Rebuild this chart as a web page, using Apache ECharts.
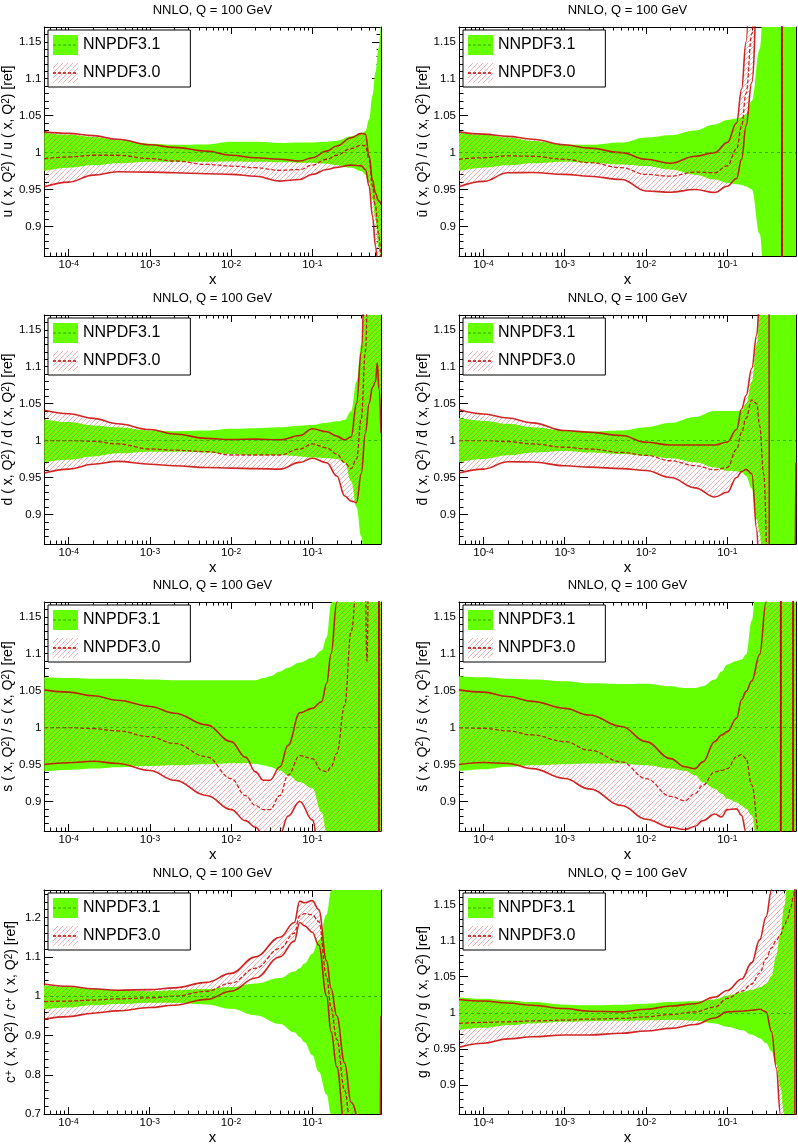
<!DOCTYPE html>
<html><head><meta charset="utf-8">
<script src="https://cdn.jsdelivr.net/npm/echarts@6/dist/echarts.min.js"></script>
<style>html,body{margin:0;padding:0;background:#fff}#c{width:798px;height:1146px}</style>
</head><body><div id="c"></div>
<script>
// ---------------- data ----------------
const X_MIN = 5e-5, X_MAX = 0.7;
const xTickValues = [1e-4, 1e-3, 1e-2, 1e-1];
const yTicksStd = [0.9, 0.95, 1, 1.05, 1.1, 1.15];
const yTicksC = [0.7, 0.8, 0.9, 1.0, 1.1, 1.2];
const titleText = 'NNLO, Q = 100 GeV';
const legendNames = ['NNPDF3.1', 'NNPDF3.0'];

// u
const u_x    = [5e-5,1e-4,2e-4,4e-4,1e-3,2e-3,5e-3,0.01,0.02,0.04,0.07,0.1,0.15,0.2,0.3,0.4,0.45,0.5,0.55,0.6,0.65,0.7];
const u_g_hi = [1.027,1.024,1.021,1.017,1.012,1.0105,1.011,1.0145,1.0145,1.013,1.0136,1.0136,1.0145,1.016,1.022,1.026,1.029,1.045,1.077,1.109,1.141,1.18];
const u_g_lo = [0.975,0.9795,0.9827,0.9855,0.9877,0.9877,0.9877,0.988,0.9877,0.987,0.9864,0.9864,0.985,0.983,0.9795,0.975,0.970,0.959,0.936,0.909,0.873,0.845];
const u_r_hi = [1.028,1.026,1.023,1.018,1.0105,1.007,1.002,0.9964,0.993,0.991,0.9886,0.993,1.002,1.009,1.020,1.026,1.025,0.9955,0.963,0.945,0.935,0.93];
const u_r_c  = [0.9918,0.994,0.9964,0.9964,0.9918,0.9886,0.984,0.9818,0.9795,0.976,0.977,0.983,0.991,0.9964,1.0055,1.010,1.009,0.991,0.9545,0.927,0.891,0.855];
const u_r_lo = [0.9536,0.96,0.9695,0.974,0.9736,0.9727,0.9714,0.9705,0.968,0.9614,0.9636,0.9705,0.977,0.980,0.983,0.982,0.977,0.9545,0.9136,0.873,0.836,0.80];

// ubar
const ub_x    = [5e-5,1e-4,2e-4,4e-4,1e-3,2e-3,5e-3,0.01,0.02,0.04,0.07,0.1,0.13,0.15,0.17,0.2,0.25,0.3,0.465,0.475,0.7];
const ub_g_hi = [1.027,1.024,1.0205,1.016,1.0105,1.0105,1.0136,1.0205,1.0236,1.030,1.038,1.044,1.046,1.048,1.052,1.07,1.14,1.3,1.6,1.6,1.6];
const ub_g_lo = [0.975,0.9795,0.9827,0.9855,0.9877,0.9864,0.984,0.982,0.977,0.970,0.9636,0.959,0.957,0.956,0.954,0.95,0.89,0.78,0.5,0.5,0.5];
const ub_r_hi = [1.028,1.025,1.022,1.018,1.0105,1.006,1.0,0.991,0.9855,0.995,1.0,1.0136,1.04,1.086,1.15,1.3,1.5,1.8,2.0,0.0,0.0];
const ub_r_c  = [0.991,0.993,0.9955,0.995,0.991,0.9864,0.9795,0.9705,0.968,0.9736,0.9727,0.982,1.005,1.036,1.08,1.16,1.4,1.7,2.0,0.0,0.0];
const ub_r_lo = [0.9536,0.961,0.9727,0.973,0.9705,0.968,0.9636,0.948,0.9464,0.95,0.946,0.9545,0.965,0.991,1.036,1.095,1.3,1.6,2.0,0.0,0.0];

// d
const d_x    = [5e-5,1e-4,2e-4,4e-4,1e-3,2e-3,5e-3,0.01,0.02,0.04,0.07,0.1,0.15,0.2,0.25,0.3,0.35,0.4,0.45,0.5,0.55,0.6,0.63,0.66,0.7];
const d_g_hi = [1.0286,1.025,1.0205,1.018,1.0136,1.0127,1.0136,1.016,1.0168,1.018,1.020,1.021,1.024,1.026,1.028,1.04,1.08,1.13,1.19,1.4,1.6,1.8,2,2,2];
const d_g_lo = [0.9705,0.974,0.9786,0.9827,0.985,0.985,0.984,0.982,0.980,0.980,0.9786,0.977,0.976,0.975,0.97,0.945,0.91,0.87,0.82,0.7,0.6,0.5,0.5,0.5,0.5];
const d_r_hi = [1.041,1.0364,1.030,1.0227,1.015,1.009,1.003,1.0014,1.002,1.001,1.0068,1.016,1.012,1.006,1.001,1.005,1.05,1.12,1.25,1.5,1.8,2,2,2,2];
const d_r_c  = [1.0,1.0,0.999,0.9955,0.9886,0.987,0.985,0.9805,0.9805,0.9805,0.9886,0.9955,0.99,0.982,0.97,0.962,0.975,1.03,1.12,1.3,1.6,2,2,2,2];
const d_r_lo = [0.956,0.9614,0.968,0.9718,0.968,0.9659,0.9636,0.9627,0.962,0.9614,0.9705,0.976,0.97,0.952,0.925,0.918,0.916,0.955,1.01,1.05,1.072,1.08,1.105,1.07,1.01];

// dbar
const db_x    = [5e-5,1e-4,2e-4,4e-4,1e-3,2e-3,5e-3,0.01,0.02,0.04,0.07,0.1,0.13,0.15,0.17,0.2,0.23,0.25,0.28,0.32,0.335,0.6,0.65,0.7];
const db_g_hi = [1.031,1.027,1.0227,1.018,1.0136,1.012,1.0136,1.018,1.024,1.032,1.04,1.04,1.04,1.041,1.05,1.08,1.13,1.17,1.3,1.6,2,2,2,2];
const db_g_lo = [0.9705,0.975,0.98,0.984,0.986,0.984,0.982,0.9795,0.976,0.9705,0.9636,0.959,0.958,0.957,0.952,0.935,0.893,0.875,0.8,0.5,0.5,0.5,0.5,0.5];
const db_r_hi = [1.042,1.036,1.0305,1.024,1.0136,1.0114,1.0068,0.9977,0.994,0.994,0.994,0.998,1.015,1.043,1.061,1.098,1.143,1.19,1.4,2.0,0.0,0.5,0.7,0.97];
const db_r_c  = [1.0,1.0,0.9986,0.9955,0.991,0.9886,0.984,0.98,0.9727,0.966,0.9605,0.9636,0.988,1.011,1.03,1.055,1.05,1.02,0.955,0.8,0.6,0.5,0.5,0.5];
const db_r_lo = [0.956,0.9614,0.9714,0.971,0.966,0.964,0.962,0.9595,0.95,0.936,0.9236,0.93,0.95,0.958,0.961,0.955,0.88,0.8,0.6,0.5,0.5,0.5,0.5,0.5];

// s
const s_x    = [5e-5,1e-4,2e-4,4e-4,1e-3,2e-3,5e-3,0.01,0.015,0.02,0.025,0.03,0.04,0.05,0.07,0.1,0.13,0.15,0.17,0.2,0.25,0.3,0.43,0.47,0.51,0.65,0.67,0.7];
const s_g_hi = [1.068,1.067,1.066,1.066,1.065,1.064,1.064,1.064,1.064,1.064,1.067,1.0695,1.076,1.081,1.088,1.0945,1.104,1.122,1.167,1.25,1.5,1.8,2,2,2,2,2,2];
const s_g_lo = [0.941,0.9427,0.9445,0.9464,0.948,0.949,0.9505,0.9518,0.9518,0.951,0.949,0.9468,0.942,0.9355,0.926,0.918,0.885,0.858,0.83,0.8,0.6,0.5,0.5,0.5,0.5,0.5,0.5,0.5];
const s_r_hi = [1.051,1.048,1.043,1.037,1.0286,1.0195,1.0036,0.981,0.960,0.94,0.9286,0.9286,0.947,0.976,1.02,1.026,1.035,1.06,1.1,1.17,1.4,1.6,2,2,2,2,0.0,0.0];
const s_r_c  = [1.0,1.0,0.9986,0.9955,0.9877,0.9786,0.9605,0.931,0.908,0.8945,0.889,0.889,0.908,0.9355,0.962,0.958,0.942,0.94,0.9468,0.965,1.03,1.13,1.4,1.09,1.4,2,0.0,0.0];
const s_r_lo = [0.95,0.9523,0.9545,0.9514,0.942,0.9286,0.908,0.889,0.874,0.865,0.8536,0.84,0.855,0.88,0.9,0.875,0.8,0.7,0.6,0.5,0.5,0.5,0.5,0.5,0.5,0.5,2.0,2.0];

// sbar
const sb_x    = [5e-5,1e-4,2e-4,4e-4,1e-3,2e-3,5e-3,0.01,0.02,0.03,0.04,0.05,0.07,0.085,0.1,0.13,0.15,0.17,0.2,0.25,0.3,0.45,0.46,0.64,0.65,0.7];
const sb_g_hi = [1.0695,1.068,1.066,1.065,1.0627,1.060,1.059,1.0595,1.056,1.0536,1.0536,1.056,1.065,1.076,1.0855,1.09,1.092,1.099,1.145,1.3,1.6,2,2,2,2,2];
const sb_g_lo = [0.941,0.9436,0.947,0.949,0.9505,0.9514,0.9514,0.949,0.9445,0.9414,0.9355,0.926,0.9173,0.9105,0.9036,0.899,0.8945,0.89,0.881,0.8,0.6,0.5,0.5,0.5,0.5,0.5];
const sb_r_hi = [1.051,1.048,1.042,1.0355,1.026,1.017,1.0014,0.981,0.958,0.947,0.9445,0.9536,0.981,0.99,0.9945,1.0127,1.038,1.049,1.063,1.099,1.17,2,0.0,0.0,2,2];
const sb_r_c  = [1.0,0.9991,0.9955,0.99,0.981,0.9695,0.9536,0.931,0.907,0.901,0.9105,0.922,0.94,0.942,0.9445,0.9605,0.9636,0.958,0.922,0.85,0.5,0.5,2,2,0.5,0.5];
const sb_r_lo = [0.95,0.9527,0.9514,0.9445,0.931,0.917,0.8945,0.876,0.865,0.862,0.866,0.874,0.883,0.879,0.889,0.89,0.881,0.858,0.8,0.6,0.5,0.5,2,2,0.5,0.5];

// c+
const cp_x    = [5e-5,1e-4,2e-4,4e-4,1e-3,2e-3,5e-3,0.01,0.02,0.04,0.06,0.07,0.08,0.1,0.12,0.15,0.17,0.2,0.25,0.3,0.6,0.66,0.7];
const cp_g_hi = [1.0275,1.023,1.018,1.015,1.0125,1.015,1.018,1.023,1.032,1.046,1.0625,1.071,1.083,1.108,1.142,1.208,1.267,1.35,1.5,1.6,2,2,2];
const cp_g_lo = [0.9667,0.971,0.9767,0.98,0.9833,0.9833,0.979,0.968,0.9517,0.929,0.908,0.896,0.883,0.85,0.808,0.75,0.7,0.6,0.5,0.4,0.3,0.3,0.3];
const cp_r_hi = [1.031,1.025,1.019,1.015,1.0167,1.021,1.035,1.058,1.10,1.15,1.1875,1.2417,1.2375,1.243,1.22,1.09,1.02,0.95,0.83,0.73,0.4,0.4,0.95];
const cp_r_c  = [0.986,0.9875,0.99,0.9933,0.9958,1.0,1.0125,1.033,1.071,1.121,1.16,1.204,1.21,1.207,1.19,1.05,0.97,0.89,0.76,0.66,0.4,0.4,0.4];
const cp_r_lo = [0.9417,0.948,0.9567,0.9625,0.971,0.977,0.9917,1.0125,1.046,1.10,1.14,1.1875,1.179,1.1625,1.13,1.0,0.91,0.82,0.67,0.58,0.4,0.4,0.4];

// g
const g_x    = [5e-5,1e-4,2e-4,4e-4,1e-3,2e-3,5e-3,0.01,0.02,0.04,0.07,0.1,0.15,0.2,0.25,0.3,0.35,0.4,0.45,0.5,0.55,0.6,0.65,0.675,0.685,0.7];
const g_g_hi = [1.0218,1.0195,1.0173,1.015,1.0114,1.0105,1.0114,1.0127,1.015,1.016,1.0186,1.024,1.0286,1.032,1.0355,1.04,1.051,1.079,1.11,1.147,1.18,1.3,1.5,1.6,1.6,1.6];
const g_g_lo = [0.9764,0.9795,0.983,0.9855,0.9877,0.9886,0.989,0.9895,0.99,0.989,0.9855,0.981,0.9764,0.97,0.965,0.958,0.947,0.9286,0.897,0.86,0.8,0.7,0.6,0.5,0.5,0.5];
const g_r_hi = [1.0186,1.0164,1.0136,1.0105,1.006,1.0023,1.0014,1.005,1.0095,1.0127,1.0218,1.031,1.0468,1.0695,1.101,1.133,1.17,1.25,1.4,1.6,1.8,2,2,2,2,2];
const g_r_c  = [0.9855,0.9868,0.9877,0.989,0.99,0.9914,0.9923,0.9945,0.9977,1.0014,1.008,1.02,1.03,1.04,1.055,1.075,1.09,1.1,1.108,1.12,1.13,1.145,1.16,1.17,1.18,1.2];
const g_r_lo = [0.9523,0.958,0.964,0.967,0.9695,0.9695,0.9718,0.975,0.9786,0.984,0.993,1.0014,1.0023,1.0036,1.005,1.0014,0.974,0.924,0.86,0.75,0.6,0.5,0.5,0.5,2,2];

// ---------------- panels ----------------
const panels = [
  {yName:'u ( x, Q{s|2}) / u ( x, Q{s|2}) [ref]', col:0,row:0, yMin:0.86,yMax:1.17, yTicks:yTicksStd, yMinorStep:0.01, x:u_x, gHi:u_g_hi, gLo:u_g_lo, rHi:u_r_hi, rC:u_r_c, rLo:u_r_lo},
  {yName:'\u016B ( x, Q{s|2}) / \u016B ( x, Q{s|2}) [ref]', col:1,row:0, yMin:0.86,yMax:1.17, yTicks:yTicksStd, yMinorStep:0.01, x:ub_x, gHi:ub_g_hi, gLo:ub_g_lo, rHi:ub_r_hi, rC:ub_r_c, rLo:ub_r_lo},
  {yName:'d ( x, Q{s|2}) / d ( x, Q{s|2}) [ref]', col:0,row:1, yMin:0.86,yMax:1.17, yTicks:yTicksStd, yMinorStep:0.01, x:d_x, gHi:d_g_hi, gLo:d_g_lo, rHi:d_r_hi, rC:d_r_c, rLo:d_r_lo},
  {yName:'d\u0304 ( x, Q{s|2}) / d\u0304 ( x, Q{s|2}) [ref]', col:1,row:1, yMin:0.86,yMax:1.17, yTicks:yTicksStd, yMinorStep:0.01, x:db_x, gHi:db_g_hi, gLo:db_g_lo, rHi:db_r_hi, rC:db_r_c, rLo:db_r_lo},
  {yName:'s ( x, Q{s|2}) / s ( x, Q{s|2}) [ref]', col:0,row:2, yMin:0.86,yMax:1.17, yTicks:yTicksStd, yMinorStep:0.01, x:s_x, gHi:s_g_hi, gLo:s_g_lo, rHi:s_r_hi, rC:s_r_c, rLo:s_r_lo},
  {yName:'s\u0304 ( x, Q{s|2}) / s\u0304 ( x, Q{s|2}) [ref]', col:1,row:2, yMin:0.86,yMax:1.17, yTicks:yTicksStd, yMinorStep:0.01, x:sb_x, gHi:sb_g_hi, gLo:sb_g_lo, rHi:sb_r_hi, rC:sb_r_c, rLo:sb_r_lo},
  {yName:'c{s|+} ( x, Q{s|2}) / c{s|+} ( x, Q{s|2}) [ref]', col:0,row:3, yMin:0.7,yMax:1.27, yTicks:yTicksC, yMinorStep:0.02, x:cp_x, gHi:cp_g_hi, gLo:cp_g_lo, rHi:cp_r_hi, rC:cp_r_c, rLo:cp_r_lo},
  {yName:'g ( x, Q{s|2}) / g ( x, Q{s|2}) [ref]', col:1,row:3, yMin:0.86,yMax:1.17, yTicks:yTicksStd, yMinorStep:0.01, x:g_x, gHi:g_g_hi, gLo:g_g_lo, rHi:g_r_hi, rC:g_r_c, rLo:g_r_lo}
];

// ---------------- style / layout ----------------
const FONT = 'Liberation Sans, Arial, DejaVu Sans, sans-serif';
const GREEN = '#66ff00';
const GREEN_DASH = '#2fa300';
const RED = 'rgba(200,0,0,0.85)';
const colLeft = [44, 459];
const rowTop = [27, 315, 602, 890];
const plotW = 337, plotH = 229;

function makeHatch() {
  const c = document.createElement('canvas');
  c.width = 5; c.height = 5;
  const g = c.getContext('2d');
  g.strokeStyle = 'rgba(220,70,70,0.6)';
  g.lineWidth = 0.7;
  g.beginPath();
  g.moveTo(0,5); g.lineTo(5,0);
  g.moveTo(-1,1); g.lineTo(1,-1);
  g.moveTo(4,6); g.lineTo(6,4);
  g.stroke();
  return c;
}
const hatchCanvas = makeHatch();
const hatch = { image: hatchCanvas, repeat: 'repeat' };

// legend icon images: filled box with a dashed central line (as in the ROOT legend)
function makeLegendIcon(fill, dashColor, dashWidth) {
  const c = document.createElement('canvas');
  c.width = 25; c.height = 20;
  const g = c.getContext('2d');
  g.fillStyle = fill === 'hatch' ? g.createPattern(hatchCanvas, 'repeat') : fill;
  g.fillRect(0, 0, 25, 20);
  g.strokeStyle = dashColor; g.lineWidth = dashWidth; g.setLineDash([3, 2]);
  g.beginPath(); g.moveTo(0, 10); g.lineTo(25, 10); g.stroke();
  return 'image://' + c.toDataURL();
}
const iconGreen = makeLegendIcon(GREEN, GREEN_DASH, 1);
const iconRed = makeLegendIcon('hatch', '#c00000', 1.5);

const lg = Math.log10;
const xMinorVals = [];
for (let n = -5; n <= -1; n++) for (let k = 2; k <= 9; k++) {
  const v = k * Math.pow(10, n);
  if (v > X_MIN * 1.0001 && v < X_MAX * 0.9999) xMinorVals.push(lg(v));
}

const option = { animation:false, title:[], legend:[], grid:[], xAxis:[], yAxis:[], series:[] };

panels.forEach((p, i) => {
  const left = colLeft[p.col], top = rowTop[p.row];
  option.grid.push({ left, top, width: plotW, height: plotH, containLabel:false, show:false });

  const frame = { onZero:false, lineStyle:{ color:'#000', width:1 } };
  const xCommon = { type:'value', gridIndex:i, min: lg(X_MIN), max: lg(X_MAX), splitLine:{show:false} };
  const xMajor = xTickValues.map(lg);
  option.xAxis.push(
    Object.assign({}, xCommon, { position:'bottom', axisLine:frame,
      axisTick:{ inside:true, length:7, customValues:xMajor, lineStyle:{color:'#000'} },
      axisLabel:{ customValues:xMajor, margin:3, color:'#000',
        formatter: v => '{b|10}{e|' + Math.round(v) + '}',
        rich:{ b:{fontSize:11.5, fontFamily:FONT, color:'#000'}, e:{fontSize:8.5, fontFamily:FONT, color:'#000', verticalAlign:'top'} } },
      name:'x', nameLocation:'middle', nameGap:12, nameTextStyle:{ fontSize:15, fontFamily:FONT, color:'#000' } }),
    Object.assign({}, xCommon, { position:'bottom', axisLine:{show:false, onZero:false},
      axisTick:{ inside:true, length:3.5, customValues:xMinorVals, lineStyle:{color:'#000'} }, axisLabel:{show:false} }),
    Object.assign({}, xCommon, { position:'top', axisLine:frame,
      axisTick:{ inside:true, length:7, customValues:xMajor, lineStyle:{color:'#000'} }, axisLabel:{show:false} }),
    Object.assign({}, xCommon, { position:'top', axisLine:{show:false, onZero:false},
      axisTick:{ inside:true, length:3.5, customValues:xMinorVals, lineStyle:{color:'#000'} }, axisLabel:{show:false} })
  );

  const yMinorVals = [];
  const nStep = Math.round((p.yMax - p.yMin) / p.yMinorStep);
  for (let k = 0; k <= nStep; k++) yMinorVals.push(+(p.yMin + k * p.yMinorStep).toFixed(4));
  const yCommon = { type:'value', gridIndex:i, min:p.yMin, max:p.yMax, splitLine:{show:false} };
  option.yAxis.push(
    Object.assign({}, yCommon, { position:'left', axisLine:frame,
      axisTick:{ inside:true, length:9, customValues:p.yTicks, lineStyle:{color:'#000'} },
      axisLabel:{ customValues:p.yTicks, margin:3, fontSize:11.5, fontFamily:FONT, color:'#000',
        formatter: v => String(Math.round(v * 100) / 100) },
      name:p.yName, nameLocation:'middle', nameGap:26, nameRotate:90,
      nameTextStyle:{ fontSize:14, fontFamily:FONT, color:'#000',
        rich:{ s:{fontSize:10, fontFamily:FONT, color:'#000', verticalAlign:'top'} } } }),
    Object.assign({}, yCommon, { position:'left', axisLine:{show:false, onZero:false},
      axisTick:{ inside:true, length:4.5, customValues:yMinorVals, lineStyle:{color:'#000'} }, axisLabel:{show:false} }),
    Object.assign({}, yCommon, { position:'right', axisLine:frame,
      axisTick:{ inside:true, length:9, customValues:p.yTicks, lineStyle:{color:'#000'} }, axisLabel:{show:false} }),
    Object.assign({}, yCommon, { position:'right', axisLine:{show:false, onZero:false},
      axisTick:{ inside:true, length:4.5, customValues:yMinorVals, lineStyle:{color:'#000'} }, axisLabel:{show:false} })
  );

  option.title.push({ text:titleText, left: left + plotW / 2, top: top - 23, textAlign:'center', padding:0,
    textStyle:{ fontSize:13, fontWeight:'normal', color:'#000', fontFamily:FONT } });

  option.legend.push({ left: left + 4, top: top + 3, orient:'vertical', itemWidth:25, itemHeight:20, itemGap:8,
    padding:[5,30,4,5], backgroundColor:'#fff', borderColor:'#000', borderWidth:1, borderRadius:0, z:10,
    selectedMode:false, textStyle:{ fontSize:16, color:'#000', fontFamily:FONT },
    data:[ { name:legendNames[0], icon:iconGreen },
           { name:legendNames[1], icon:iconRed } ] });

  // rows are [y, log10 x]; encode maps column 1 to x so that stacking acts on y
  const pts = arr => p.x.map((x, k) => [arr[k], lg(x)]);
  const diff = (hi, lo) => p.x.map((x, k) => [hi[k] - lo[k], lg(x)]);
  const base = { type:'line', xAxisIndex:i*4, yAxisIndex:i*4, encode:{ x:1, y:0 }, symbol:'none', showSymbol:false,
    smooth:0.4, smoothMonotone:'x', silent:true, clip:true, animation:false };
  option.series.push(
    Object.assign({}, base, { name:'_gb'+i, stack:'g'+i, stackStrategy:'all', data:pts(p.gLo), lineStyle:{width:0, opacity:0}, z:2 }),
    Object.assign({}, base, { name:legendNames[0], stack:'g'+i, stackStrategy:'all', data:diff(p.gHi, p.gLo),
      lineStyle:{width:0, opacity:0}, itemStyle:{color:GREEN}, areaStyle:{color:GREEN, opacity:1}, z:2,
      markLine:{ silent:true, symbol:'none', label:{show:false}, animation:false, z:6,
        lineStyle:{ color:GREEN_DASH, type:[3,3], width:1, opacity:0.85 }, data:[{ yAxis:1 }] } }),
    Object.assign({}, base, { name:'_rb'+i, stack:'r'+i, stackStrategy:'all', data:pts(p.rLo), lineStyle:{width:0, opacity:0}, z:3 }),
    Object.assign({}, base, { name:legendNames[1], stack:'r'+i, stackStrategy:'all', data:diff(p.rHi, p.rLo),
      lineStyle:{width:0, opacity:0}, itemStyle:{color:'#cc0000'}, areaStyle:{color:hatch, opacity:1}, z:3 }),
    Object.assign({}, base, { name:'_rhi'+i, data:pts(p.rHi), lineStyle:{color:RED, width:1.6}, z:4 }),
    Object.assign({}, base, { name:'_rlo'+i, data:pts(p.rLo), lineStyle:{color:RED, width:1.6}, z:4 }),
    Object.assign({}, base, { name:'_rc'+i, data:pts(p.rC), lineStyle:{color:RED, width:1.3, type:[4,2]}, z:4 })
  );
});

const chart = echarts.init(document.getElementById('c'), null, { renderer:'canvas' });
chart.setOption(option);
</script>
</body></html>
